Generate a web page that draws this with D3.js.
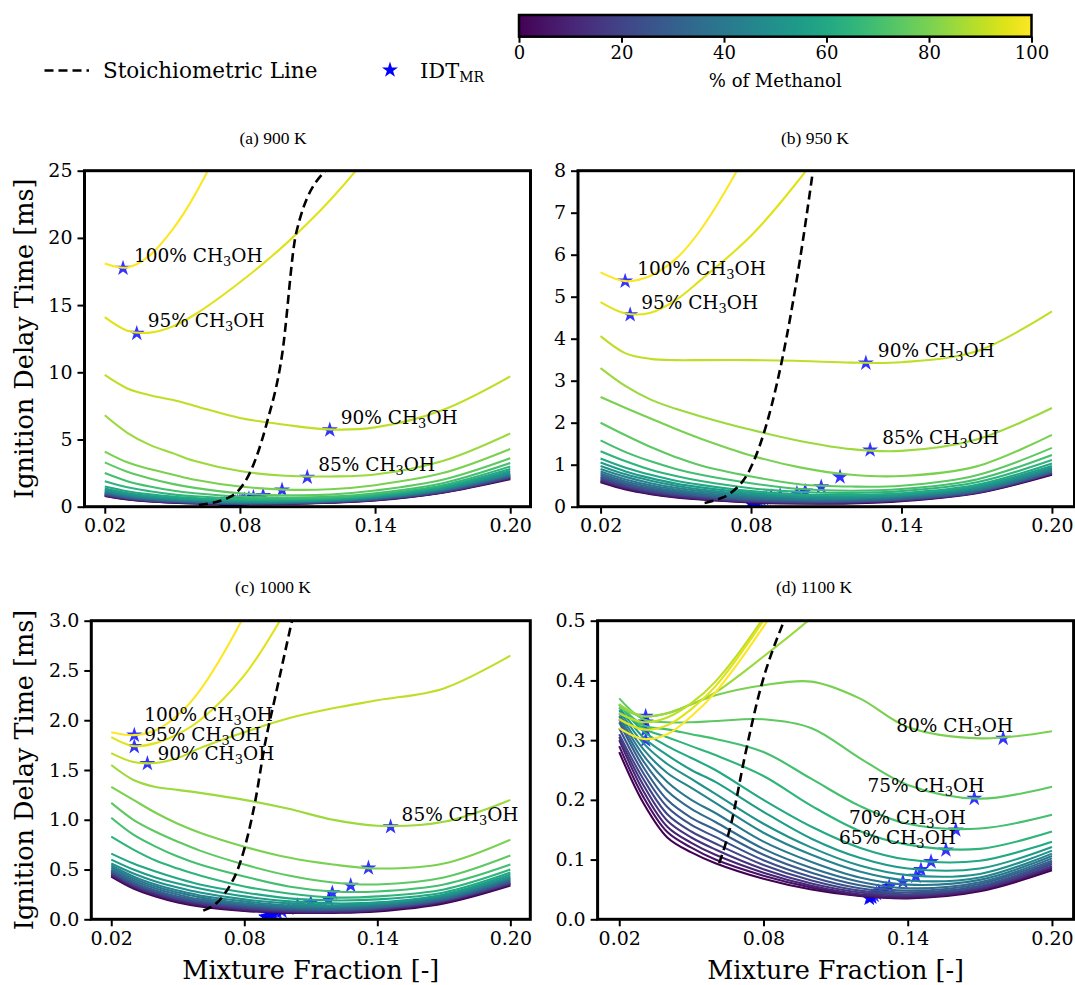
<!DOCTYPE html>
<html>
<head>
<meta charset="utf-8">
<script src="https://cdn.jsdelivr.net/npm/d3@7"></script>
<style>
  body { margin: 0; background: #fff; }
  svg text { font-family: "DejaVu Serif", serif; fill: #000; }
</style>
</head>
<body>
<svg id="chart" width="1075" height="985"></svg>
<script>
// mixture fraction grid shared by every curve
const mixFrac = [0.02, 0.03, 0.04, 0.05, 0.06, 0.08, 0.10, 0.12, 0.14, 0.17, 0.20];
const methanolPct = [0, 5, 10, 15, 20, 25, 30, 35, 40, 45, 50, 55, 60, 65, 70, 75, 80, 85, 90, 95, 100];
const xTicks = [0.02, 0.08, 0.14, 0.20];
const cbarTicks = [0, 20, 40, 60, 80, 100];

// ignition delay time [ms], one row per methanol %, 0 % first
const idt900 = [
  [0.8, 0.54, 0.39, 0.3, 0.24, 0.19, 0.21, 0.3, 0.46, 1.04, 2.05],
  [0.82, 0.56, 0.41, 0.31, 0.25, 0.2, 0.22, 0.31, 0.48, 1.06, 2.1],
  [0.85, 0.58, 0.43, 0.33, 0.27, 0.21, 0.23, 0.32, 0.5, 1.08, 2.13],
  [0.88, 0.61, 0.45, 0.35, 0.28, 0.22, 0.24, 0.33, 0.52, 1.1, 2.17],
  [0.92, 0.64, 0.47, 0.37, 0.3, 0.24, 0.26, 0.35, 0.54, 1.13, 2.2],
  [0.95, 0.67, 0.5, 0.39, 0.32, 0.25, 0.27, 0.37, 0.56, 1.16, 2.25],
  [1.0, 0.71, 0.53, 0.42, 0.34, 0.27, 0.29, 0.39, 0.59, 1.19, 2.3],
  [1.05, 0.75, 0.57, 0.45, 0.37, 0.29, 0.31, 0.41, 0.62, 1.23, 2.35],
  [1.1, 0.8, 0.61, 0.48, 0.4, 0.32, 0.33, 0.43, 0.65, 1.27, 2.4],
  [1.15, 0.86, 0.66, 0.53, 0.44, 0.35, 0.36, 0.46, 0.68, 1.31, 2.45],
  [1.25, 0.93, 0.72, 0.58, 0.49, 0.39, 0.4, 0.49, 0.72, 1.36, 2.55],
  [1.35, 1.02, 0.8, 0.65, 0.55, 0.44, 0.44, 0.53, 0.76, 1.42, 2.65],
  [1.5, 1.15, 0.92, 0.75, 0.64, 0.5, 0.49, 0.58, 0.82, 1.5, 2.8],
  [1.9, 1.45, 1.15, 0.92, 0.78, 0.6, 0.57, 0.65, 0.9, 1.6, 3.0],
  [2.5, 1.9, 1.5, 1.2, 1.0, 0.75, 0.68, 0.75, 1.0, 1.75, 3.25],
  [3.3, 2.6, 2.1, 1.7, 1.4, 1.0, 0.85, 0.9, 1.2, 2.0, 3.6],
  [4.1, 3.3, 2.8, 2.4, 2.0, 1.5, 1.27, 1.3, 1.6, 2.5, 4.3],
  [6.8, 5.5, 4.6, 4.0, 3.4, 2.65, 2.3, 2.25, 2.4, 3.4, 5.45],
  [9.8, 8.8, 8.3, 7.95, 7.5, 6.6, 6.1, 5.75, 5.9, 7.2, 9.7],
  [14.1, 13.1, 12.95, 13.4, 14.3, 16.7, 19.5, 22.8, 26.8, 34, 42],
  [18.1, 17.8, 18.7, 20.6, 23.2, 30, 38, 47, 57, 72, 90]
];
const idt950 = [
  [0.58, 0.41, 0.3, 0.22, 0.17, 0.1, 0.075, 0.08, 0.13, 0.32, 0.76],
  [0.6, 0.43, 0.31, 0.23, 0.18, 0.11, 0.08, 0.09, 0.14, 0.33, 0.78],
  [0.62, 0.45, 0.33, 0.25, 0.19, 0.12, 0.09, 0.1, 0.15, 0.34, 0.79],
  [0.65, 0.47, 0.35, 0.27, 0.21, 0.13, 0.1, 0.11, 0.16, 0.34, 0.8],
  [0.68, 0.5, 0.37, 0.29, 0.23, 0.14, 0.11, 0.12, 0.17, 0.35, 0.81],
  [0.71, 0.53, 0.4, 0.31, 0.25, 0.16, 0.12, 0.13, 0.18, 0.36, 0.82],
  [0.75, 0.56, 0.43, 0.34, 0.27, 0.18, 0.14, 0.14, 0.19, 0.37, 0.83],
  [0.79, 0.6, 0.47, 0.37, 0.3, 0.2, 0.16, 0.16, 0.21, 0.39, 0.85],
  [0.84, 0.65, 0.51, 0.41, 0.33, 0.23, 0.18, 0.18, 0.23, 0.41, 0.87],
  [0.9, 0.71, 0.56, 0.45, 0.37, 0.26, 0.2, 0.2, 0.25, 0.43, 0.9],
  [0.97, 0.77, 0.62, 0.5, 0.41, 0.29, 0.23, 0.22, 0.27, 0.46, 0.93],
  [1.05, 0.84, 0.68, 0.55, 0.46, 0.33, 0.26, 0.25, 0.29, 0.49, 0.97],
  [1.15, 0.93, 0.76, 0.62, 0.52, 0.37, 0.29, 0.28, 0.32, 0.52, 1.03],
  [1.32, 1.08, 0.88, 0.73, 0.61, 0.44, 0.35, 0.33, 0.37, 0.58, 1.11],
  [1.58, 1.3, 1.08, 0.9, 0.76, 0.56, 0.42, 0.38, 0.42, 0.65, 1.23],
  [2.0, 1.7, 1.42, 1.18, 0.98, 0.72, 0.53, 0.48, 0.5, 0.75, 1.4],
  [2.61, 2.35, 2.1, 1.85, 1.62, 1.22, 0.93, 0.76, 0.73, 0.96, 1.71],
  [3.3, 2.87, 2.55, 2.33, 2.15, 1.83, 1.56, 1.37, 1.33, 1.6, 2.35],
  [4.06, 3.65, 3.52, 3.49, 3.49, 3.49, 3.47, 3.43, 3.44, 3.7, 4.65],
  [4.87, 4.6, 4.62, 4.92, 5.4, 6.45, 7.85, 9.5, 11.5, 14, 17],
  [5.58, 5.37, 5.5, 5.9, 6.6, 8.6, 11, 14, 17, 22, 27]
];
const idt1000 = [
  [0.43, 0.31, 0.23, 0.17, 0.13, 0.085, 0.065, 0.065, 0.08, 0.16, 0.34],
  [0.44, 0.32, 0.24, 0.18, 0.14, 0.09, 0.07, 0.07, 0.09, 0.17, 0.35],
  [0.45, 0.33, 0.25, 0.19, 0.15, 0.1, 0.075, 0.075, 0.095, 0.18, 0.36],
  [0.46, 0.34, 0.26, 0.2, 0.16, 0.11, 0.085, 0.08, 0.1, 0.185, 0.36],
  [0.47, 0.35, 0.27, 0.21, 0.17, 0.12, 0.09, 0.09, 0.11, 0.19, 0.37],
  [0.48, 0.36, 0.28, 0.22, 0.18, 0.13, 0.1, 0.095, 0.115, 0.2, 0.38],
  [0.49, 0.37, 0.29, 0.23, 0.19, 0.14, 0.11, 0.1, 0.12, 0.2, 0.39],
  [0.5, 0.39, 0.31, 0.25, 0.2, 0.15, 0.12, 0.11, 0.13, 0.21, 0.4],
  [0.52, 0.41, 0.33, 0.27, 0.22, 0.16, 0.13, 0.12, 0.14, 0.22, 0.41],
  [0.54, 0.43, 0.35, 0.29, 0.24, 0.18, 0.14, 0.13, 0.15, 0.23, 0.42],
  [0.56, 0.46, 0.38, 0.32, 0.27, 0.2, 0.16, 0.14, 0.16, 0.24, 0.43],
  [0.6, 0.5, 0.42, 0.36, 0.31, 0.23, 0.18, 0.16, 0.17, 0.25, 0.45],
  [0.66, 0.56, 0.48, 0.41, 0.35, 0.27, 0.21, 0.19, 0.2, 0.27, 0.47],
  [0.83, 0.7, 0.59, 0.51, 0.44, 0.33, 0.26, 0.22, 0.23, 0.3, 0.5],
  [1.02, 0.85, 0.73, 0.63, 0.55, 0.43, 0.33, 0.28, 0.28, 0.35, 0.55],
  [1.17, 1.0, 0.88, 0.78, 0.69, 0.55, 0.44, 0.37, 0.35, 0.42, 0.64],
  [1.33, 1.2, 1.07, 0.96, 0.87, 0.73, 0.62, 0.55, 0.51, 0.56, 0.8],
  [1.55, 1.4, 1.33, 1.3, 1.27, 1.2, 1.11, 1.0, 0.94, 0.98, 1.2],
  [1.67, 1.58, 1.57, 1.62, 1.72, 1.88, 2.02, 2.12, 2.2, 2.32, 2.65],
  [1.83, 1.74, 1.77, 1.86, 2.0, 2.45, 3.15, 4, 5, 6.5, 8],
  [1.88, 1.85, 1.9, 2.05, 2.3, 3.05, 4.0, 5, 6, 7.5, 9]
];
const idt1100 = [
  [0.28, 0.195, 0.137, 0.112, 0.094, 0.068, 0.05, 0.039, 0.035, 0.047, 0.082],
  [0.29, 0.205, 0.146, 0.12, 0.1, 0.073, 0.053, 0.04, 0.036, 0.049, 0.085],
  [0.3, 0.215, 0.155, 0.128, 0.108, 0.078, 0.056, 0.042, 0.038, 0.05, 0.087],
  [0.305, 0.225, 0.165, 0.137, 0.117, 0.084, 0.06, 0.045, 0.04, 0.052, 0.089],
  [0.31, 0.235, 0.176, 0.147, 0.127, 0.091, 0.065, 0.048, 0.042, 0.054, 0.092],
  [0.32, 0.245, 0.188, 0.158, 0.138, 0.099, 0.071, 0.052, 0.045, 0.056, 0.095],
  [0.33, 0.255, 0.2, 0.17, 0.15, 0.108, 0.078, 0.057, 0.048, 0.059, 0.098],
  [0.335, 0.265, 0.215, 0.185, 0.163, 0.118, 0.086, 0.063, 0.052, 0.062, 0.102],
  [0.34, 0.275, 0.23, 0.2, 0.178, 0.13, 0.096, 0.07, 0.058, 0.066, 0.106],
  [0.345, 0.285, 0.245, 0.22, 0.195, 0.145, 0.108, 0.08, 0.065, 0.07, 0.11],
  [0.35, 0.295, 0.26, 0.235, 0.21, 0.16, 0.12, 0.09, 0.074, 0.076, 0.115],
  [0.355, 0.305, 0.275, 0.25, 0.23, 0.18, 0.135, 0.103, 0.085, 0.085, 0.121],
  [0.36, 0.315, 0.29, 0.27, 0.25, 0.2, 0.155, 0.12, 0.1, 0.098, 0.13],
  [0.36, 0.32, 0.305, 0.29, 0.275, 0.24, 0.19, 0.148, 0.125, 0.118, 0.147],
  [0.36, 0.325, 0.318, 0.31, 0.302, 0.28, 0.235, 0.19, 0.16, 0.152, 0.175],
  [0.37, 0.335, 0.33, 0.33, 0.332, 0.335, 0.32, 0.27, 0.225, 0.202, 0.222],
  [0.355, 0.34, 0.345, 0.36, 0.375, 0.392, 0.398, 0.37, 0.322, 0.303, 0.315],
  [0.36, 0.34, 0.345, 0.36, 0.38, 0.44, 0.505, 0.58, 0.67, 0.82, 1.0],
  [0.345, 0.33, 0.338, 0.362, 0.398, 0.505, 0.64, 0.8, 0.97, 1.2, 1.5],
  [0.335, 0.318, 0.325, 0.352, 0.39, 0.5, 0.63, 0.79, 0.96, 1.2, 1.5],
  [0.32, 0.302, 0.31, 0.34, 0.38, 0.49, 0.62, 0.78, 0.95, 1.2, 1.5]
];

// IDT at the most reactive mixture fraction (stars), 0 % first
const mr900X = [0.072, 0.073, 0.073, 0.074, 0.074, 0.075, 0.076, 0.077, 0.078, 0.079, 0.08, 0.081, 0.082, 0.084, 0.086, 0.0903, 0.0987, 0.1099, 0.1199, 0.0342, 0.0281];
const mr900Y = [0.19, 0.2, 0.21, 0.22, 0.24, 0.25, 0.27, 0.29, 0.32, 0.35, 0.39, 0.44, 0.5, 0.6, 0.7, 0.82, 1.24, 2.19, 5.71, 12.9, 17.74];
const mr950X = [0.08, 0.08, 0.08, 0.081, 0.081, 0.082, 0.082, 0.083, 0.084, 0.085, 0.086, 0.088, 0.0916, 0.0983, 0.1016, 0.108, 0.1155, 0.1275, 0.1258, 0.0318, 0.0298];
const mr950Y = [0.075, 0.08, 0.09, 0.1, 0.11, 0.12, 0.13, 0.15, 0.17, 0.19, 0.21, 0.24, 0.27, 0.32, 0.37, 0.47, 0.71, 1.35, 3.42, 4.57, 5.37];
const mr1000X = [0.09, 0.09, 0.09, 0.09, 0.091, 0.091, 0.092, 0.093, 0.095, 0.097, 0.1, 0.104, 0.11, 0.118, 0.1197, 0.128, 0.136, 0.146, 0.0363, 0.0304, 0.0304];
const mr1000Y = [0.018, 0.02, 0.02, 0.022, 0.025, 0.03, 0.035, 0.045, 0.06, 0.08, 0.11, 0.14, 0.165, 0.2, 0.265, 0.34, 0.515, 0.93, 1.565, 1.735, 1.85];
const mr1100X = [0.124, 0.124, 0.125, 0.125, 0.126, 0.127, 0.128, 0.131, 0.1323, 0.138, 0.1434, 0.1455, 0.1497, 0.1559, 0.16, 0.1677, 0.1797, 0.031, 0.031, 0.031, 0.031];
const mr1100Y = [0.035, 0.036, 0.037, 0.038, 0.04, 0.043, 0.046, 0.05, 0.055, 0.063, 0.072, 0.083, 0.0965, 0.116, 0.1495, 0.2026, 0.303, 0.34, 0.33, 0.317, 0.30];

// stoichiometric line
const st900X = [0.0618, 0.068, 0.074, 0.0789, 0.085, 0.0919, 0.0988, 0.1049, 0.118];
const st900Y = [0.12, 0.3, 0.6, 1.12, 2.73, 6.2, 11.4, 20.3, 25.0];
const st950X = [0.0615, 0.067, 0.072, 0.0795, 0.0843, 0.0924, 0.0993, 0.1047];
const st950Y = [0.09, 0.18, 0.33, 0.88, 1.6, 3.5, 5.8, 8.0];
const st1000X = [0.0615, 0.0708, 0.0786, 0.0848, 0.0894, 0.094, 0.1015];
const st1000Y = [0.087, 0.245, 0.6, 1.17, 1.77, 2.24, 3.0];
const st1100X = [0.0616, 0.0666, 0.0722, 0.0779, 0.0886];
const st1100Y = [0.094, 0.161, 0.272, 0.373, 0.5];

const yTicks900 = [0, 5, 10, 15, 20, 25];
const yTicks950 = [0, 1, 2, 3, 4, 5, 6, 7, 8];
const yTicks1000 = [0, 0.5, 1.0, 1.5, 2.0, 2.5, 3.0];
const yTicks1100 = [0, 0.1, 0.2, 0.3, 0.4, 0.5];

const svg = d3.select('#chart');
const tickFont = '19px';
const starShape = d3.symbol(d3.symbolStar, 80);

const panels = [
  { title: '(a) 900 K', idt: idt900, mrX: mr900X, mrY: mr900Y, stX: st900X, stY: st900Y,
    yMax: 25, yTicks: yTicks900, fmt: d3.format('d'), box: [84.5, 530.5, 170.7, 506.7],
    titleX: 273, titleY: 144, ylabel: true, xlabel: false, anchor: 'start',
    labels: [[100, 11, -6], [95, 11, -6], [90, 11, -6], [85, 11, -6]] },
  { title: '(b) 950 K', idt: idt950, mrX: mr950X, mrY: mr950Y, stX: st950X, stY: st950Y,
    yMax: 8, yTicks: yTicks950, fmt: d3.format('d'), box: [578, 1074.5, 170.7, 506.7],
    titleX: 815, titleY: 144, ylabel: false, xlabel: false, anchor: 'start',
    labels: [[100, 12, -6], [95, 11, -6], [90, 12, -6], [85, 12, -6]] },
  { title: '(c) 1000 K', idt: idt1000, mrX: mr1000X, mrY: mr1000Y, stX: st1000X, stY: st1000Y,
    yMax: 3, yTicks: yTicks1000, fmt: d3.format('.1f'), box: [91.3, 530.3, 620.7, 919.3],
    titleX: 273, titleY: 593, ylabel: true, xlabel: true, anchor: 'start',
    labels: [[100, 10, -14], [95, 10, -6], [90, 10, -4], [85, 11, -6]] },
  { title: '(d) 1100 K', idt: idt1100, mrX: mr1100X, mrY: mr1100Y, stX: st1100X, stY: st1100Y,
    yMax: 0.5, yTicks: yTicks1100, fmt: d3.format('.1f'), box: [597.6, 1073.6, 620.7, 919.3],
    titleX: 814, titleY: 593, ylabel: false, xlabel: true, anchor: 'end',
    labels: [[80, 10, -6], [75, 10, -6], [70, 10, -6], [65, 10, -6]] }
];

panels.forEach((p, i) => {
  const [l, r, t, b] = p.box;
  const x = d3.scaleLinear().domain([0.011, 0.209]).range([l, r]);
  const y = d3.scaleLinear().domain([0, p.yMax]).range([b, t]);
  const g = svg.append('g');

  svg.append('clipPath').attr('id', 'clip' + i)
    .append('rect').attr('x', l).attr('y', t).attr('width', r - l).attr('height', b - t);
  const plot = g.append('g').attr('clip-path', `url(#clip${i})`);

  const line = d3.line().x(d => x(d[0])).y(d => y(d[1])).curve(d3.curveCatmullRom.alpha(0.5));

  // stars first, the curves run over them
  plot.selectAll('path.star')
    .data(p.mrX.map((z, j) => [z, p.mrY[j]]))
    .enter().append('path')
    .attr('class', 'star')
    .attr('d', starShape)
    .attr('transform', d => `translate(${x(d[0])},${y(d[1])})`)
    .attr('fill', 'blue')
    .attr('fill-opacity', 0.8);

  p.idt.forEach((row, k) => {
    plot.append('path')
      .datum(mixFrac.map((z, j) => [z, row[j]]))
      .attr('d', line)
      .attr('fill', 'none')
      .attr('stroke', d3.interpolateViridis(methanolPct[k] / 100))
      .attr('stroke-width', 2.1);
  });

  plot.append('path')
    .datum(p.stX.map((z, j) => [z, p.stY[j]]))
    .attr('d', d3.line().x(d => x(d[0])).y(d => y(d[1])).curve(d3.curveMonotoneX))
    .attr('fill', 'none')
    .attr('stroke', '#000')
    .attr('stroke-width', 2.6)
    .attr('stroke-dasharray', '9,5');

  // labels next to the stars
  p.labels.forEach(([pct, dx, dy]) => {
    const k = methanolPct.indexOf(pct);
    const txt = g.append('text')
      .attr('x', x(p.mrX[k]) + dx)
      .attr('y', y(p.mrY[k]) + dy)
      .attr('text-anchor', p.anchor)
      .style('font-size', '18.5px');
    txt.append('tspan').text(pct + '% CH');
    txt.append('tspan').style('font-size', '13px').attr('dy', 4).text('3');
    txt.append('tspan').attr('dy', -4).text('OH');
  });

  // axes
  const xa = g.append('g').attr('transform', `translate(0,${b})`)
    .call(d3.axisBottom(x).tickValues(xTicks).tickFormat(d3.format('.2f')).tickSize(7).tickPadding(5));
  const ya = g.append('g').attr('transform', `translate(${l},0)`)
    .call(d3.axisLeft(y).tickValues(p.yTicks).tickFormat(p.fmt).tickSize(7).tickPadding(5));
  [xa, ya].forEach(a => {
    a.select('.domain').remove();
    a.selectAll('.tick line').attr('stroke', '#000').attr('stroke-width', 2);
    a.selectAll('.tick text').style('font-size', tickFont).style('font-family', '"DejaVu Serif", serif').attr('fill', '#000');
  });

  g.append('rect').attr('x', l).attr('y', t).attr('width', r - l).attr('height', b - t)
    .attr('fill', 'none').attr('stroke', '#000').attr('stroke-width', 3);

  g.append('text').attr('x', p.titleX).attr('y', p.titleY)
    .attr('text-anchor', 'middle')
    .style('font-family', '"Liberation Serif", serif').style('font-size', '17.5px')
    .text(p.title);

  if (p.ylabel) {
    g.append('text')
      .attr('transform', `translate(24,${(t + b) / 2}) rotate(-90)`)
      .attr('text-anchor', 'middle').attr('dominant-baseline', 'central')
      .style('font-size', '25.5px')
      .text('Ignition Delay Time [ms]');
  }
  if (p.xlabel) {
    g.append('text')
      .attr('x', (l + r) / 2).attr('y', 979)
      .attr('text-anchor', 'middle')
      .style('font-size', '25.5px')
      .text('Mixture Fraction [-]');
  }
});

// colorbar
const cb = { l: 519, r: 1031.5, t: 15, b: 36.7 };
const grad = svg.append('defs').append('linearGradient').attr('id', 'viridis');
d3.range(0, 1.0001, 0.05).forEach(s => {
  grad.append('stop').attr('offset', s).attr('stop-color', d3.interpolateViridis(s));
});
svg.append('rect').attr('x', cb.l).attr('y', cb.t).attr('width', cb.r - cb.l).attr('height', cb.b - cb.t)
  .attr('fill', 'url(#viridis)').attr('stroke', '#000').attr('stroke-width', 2.5);
const cbx = d3.scaleLinear().domain([0, 100]).range([cb.l, cb.r]);
const cba = svg.append('g').attr('transform', `translate(0,${cb.b})`)
  .call(d3.axisBottom(cbx).tickValues(cbarTicks).tickSize(6).tickPadding(4));
cba.select('.domain').remove();
cba.selectAll('.tick line').attr('stroke', '#000').attr('stroke-width', 2);
cba.selectAll('.tick text').style('font-size', '18px').style('font-family', '"DejaVu Serif", serif').attr('fill', '#000');
svg.append('text').attr('x', (cb.l + cb.r) / 2).attr('y', 87)
  .attr('text-anchor', 'middle').style('font-size', '18px').text('% of Methanol');

// legend
svg.append('line').attr('x1', 44.5).attr('x2', 89).attr('y1', 70.5).attr('y2', 70.5)
  .attr('stroke', '#000').attr('stroke-width', 2.6).attr('stroke-dasharray', '9,5');
svg.append('text').attr('x', 103).attr('y', 78).style('font-size', '21.5px').text('Stoichiometric Line');
svg.append('path').attr('d', starShape)
  .attr('transform', 'translate(390,70)').attr('fill', 'blue');
const idt = svg.append('text').attr('x', 420).attr('y', 78).style('font-size', '21px');
idt.append('tspan').text('IDT');
idt.append('tspan').style('font-size', '14px').attr('dy', 4).text('MR');
</script>
</body>
</html>
